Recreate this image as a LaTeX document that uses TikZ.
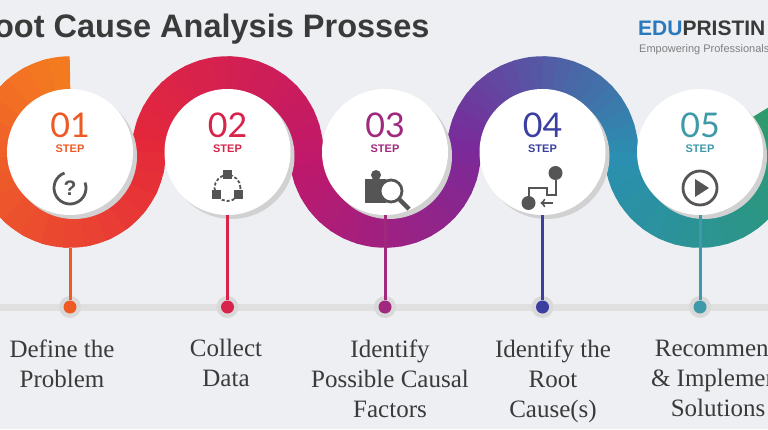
\documentclass[tikz,border=0pt]{standalone}
\usepackage{fontspec}
\setmainfont{Liberation Serif}
\newfontfamily\titlefont{Liberation Sans}
\newfontfamily\numfont{Lato}
\usetikzlibrary{positioning}
\definecolor{bgc}{HTML}{EDEFF2}
\definecolor{txt}{HTML}{3A3A3A}
\definecolor{icon}{HTML}{555555}
\definecolor{sA}{HTML}{F47A20}
\definecolor{sB}{HTML}{E4283A}
\definecolor{sC}{HTML}{C0186A}
\definecolor{sD}{HTML}{7A2A9A}
\definecolor{sE}{HTML}{3F4CA8}
\definecolor{sF}{HTML}{2A8FB0}
\definecolor{sG}{HTML}{2E9A6A}
\definecolor{nA}{HTML}{EE5A24}
\definecolor{nB}{HTML}{D8234A}
\definecolor{nC}{HTML}{A0287D}
\definecolor{nD}{HTML}{3B3FA0}
\definecolor{nE}{HTML}{3E9AA8}
\tikzset{
  disc/.style={circle, fill=white, minimum size=126pt, inner sep=0pt},
  num/.style={font=\numfont\fontsize{34}{34}\selectfont},
  steplbl/.style={font=\titlefont\bfseries\fontsize{11}{11}\selectfont},
  label/.style={align=center, text=txt, font=\fontsize{25}{30}\selectfont},
  stem/.style={line width=3pt},
  dot/.style={circle, inner sep=0pt, minimum size=13pt},
  ic/.style={draw=icon, line width=2.8pt},
}
% one band arc, shaded from colour #4 to colour #5
\newcommand{\bandarc}[5]{%
  \foreach \i in {0,...,19}{%
    \pgfmathsetmacro{\pa}{#2+(#3-#2)*\i/20}%
    \pgfmathsetmacro{\pb}{#2+(#3-#2)*(\i+1.3)/20}%
    \pgfmathsetmacro{\pc}{100-5*\i}%
    \draw[#4!\pc!#5, line width=34pt] ([shift={(\pa:78.75)}]#1,277) arc[start angle=\pa, end angle=\pb, radius=78.75];
  }}
\begin{document}
\begin{tikzpicture}[x=1pt,y=1pt]
\useasboundingbox (0,0) rectangle (768,429);
\clip (0,0) rectangle (768,429);
\fill[bgc] (0,0) rectangle (768,429);
% title and logo
\node[anchor=east, text=txt, font=\titlefont\bfseries\fontsize{32.5}{32}\selectfont] (title) at (433,400) {Root Cause Analysis Prosses};
\node[anchor=west, font=\titlefont\bfseries\fontsize{21}{21}\selectfont, inner sep=0pt] (logo) at (638,401) {\textcolor{nD!70!cyan}{EDU}\textcolor{txt}{PRISTIN}};
\node[anchor=north west, font=\titlefont\fontsize{11}{11}\selectfont, text=gray, inner sep=0pt] (tag) at (639,385) {Empowering Professionals};
% timeline
\draw[line width=7pt, black!12, line cap=round] (-10,122) -- (780,122);
% band
\bandarc{70}{90}{360}{sA}{sB}
\bandarc{227.5}{180}{0}{sB}{sC}
\bandarc{385}{180}{360}{sC}{sD}
\bandarc{542.5}{180}{0}{sD}{sF}
\bandarc{700}{180}{390}{sF}{sG}
% steps
\foreach \k/\c/\n in {1/nA/01,2/nB/02,3/nC/03,4/nD/04,5/nE/05}{
  \pgfmathsetmacro{\cx}{70+157.5*(\k-1)}
  \fill[black!18] (\cx+4,273) circle (63);
  \node[disc] (c\k) at (\cx,277) {};
  \node[num, text=\c] (n\k) at (\cx,304) {\n};
  \node[steplbl, text=\c] (s\k) at (\cx,280) {STEP};
  \coordinate (i\k) at (\cx,241);
  \node[dot, fill=black!15, minimum size=22pt] (h\k) at (\cx,122) {};
  \node[dot, fill=\c] (d\k) at (\cx,122) {};
}
\draw[stem, nA] (70,181) -- (d1);
\foreach \k/\c in {2/nB,3/nC,4/nD,5/nE}
  \draw[stem, \c] (c\k.south) -- (d\k);
% icons
\draw[ic] ([shift={(20:16)}]i1) arc[start angle=20, end angle=-250, radius=16];
\node[text=icon, font=\titlefont\bfseries\fontsize{21}{21}\selectfont] at (i1) {?};
\draw[ic, line width=1.8pt, dash pattern=on 3pt off 2pt] (i2) circle (13);
\foreach \a in {90,210,330}
  \fill[icon] ([shift={(\a:13)}]i2) ++(-4.5,-4.5) rectangle ++(9,9);
\fill[icon] ([shift={(-20,-15)}]i3) rectangle ++(21,24);
\fill[icon] ([shift={(-9,13)}]i3) circle (5);
\draw[ic, fill=white] ([shift={(6,-3)}]i3) circle (11);
\draw[ic, line width=4.5pt] ([shift={(14,-11)}]i3) -- ++(10,-10);
\fill[icon] ([shift={(13,15)}]i4) circle (7);
\fill[icon] ([shift={(-14,-15)}]i4) circle (7);
\draw[ic, line width=2pt] ([shift={(-14,-15)}]i4) -- ++(0,15) -- ++(18,0) -- ++(0,-7) -- ++(9,0) -- ++(0,15);
\draw[ic, line width=2pt, ->] ([shift={(10,-15)}]i4) -- ++(-12,0);
\draw[ic] (i5) circle (17);
\fill[icon] ([shift={(-5,-9)}]i5) -- ++(0,18) -- ++(14,-9) -- cycle;
% labels
\node[label, anchor=north] (l1) at (62,93) {Define the\\Problem};
\node[label, anchor=north] (l2) at (226,93) {Collect\\Data};
\node[label, anchor=north] (l3) at (390,93) {Identify\\Possible Causal\\Factors};
\node[label, anchor=north] (l4) at (553,93) {Identify the\\Root\\Cause(s)};
\node[label, anchor=north] (l5) at (718,93) {Recommend\\\& Implement\\Solutions};
\end{tikzpicture}
\end{document}
